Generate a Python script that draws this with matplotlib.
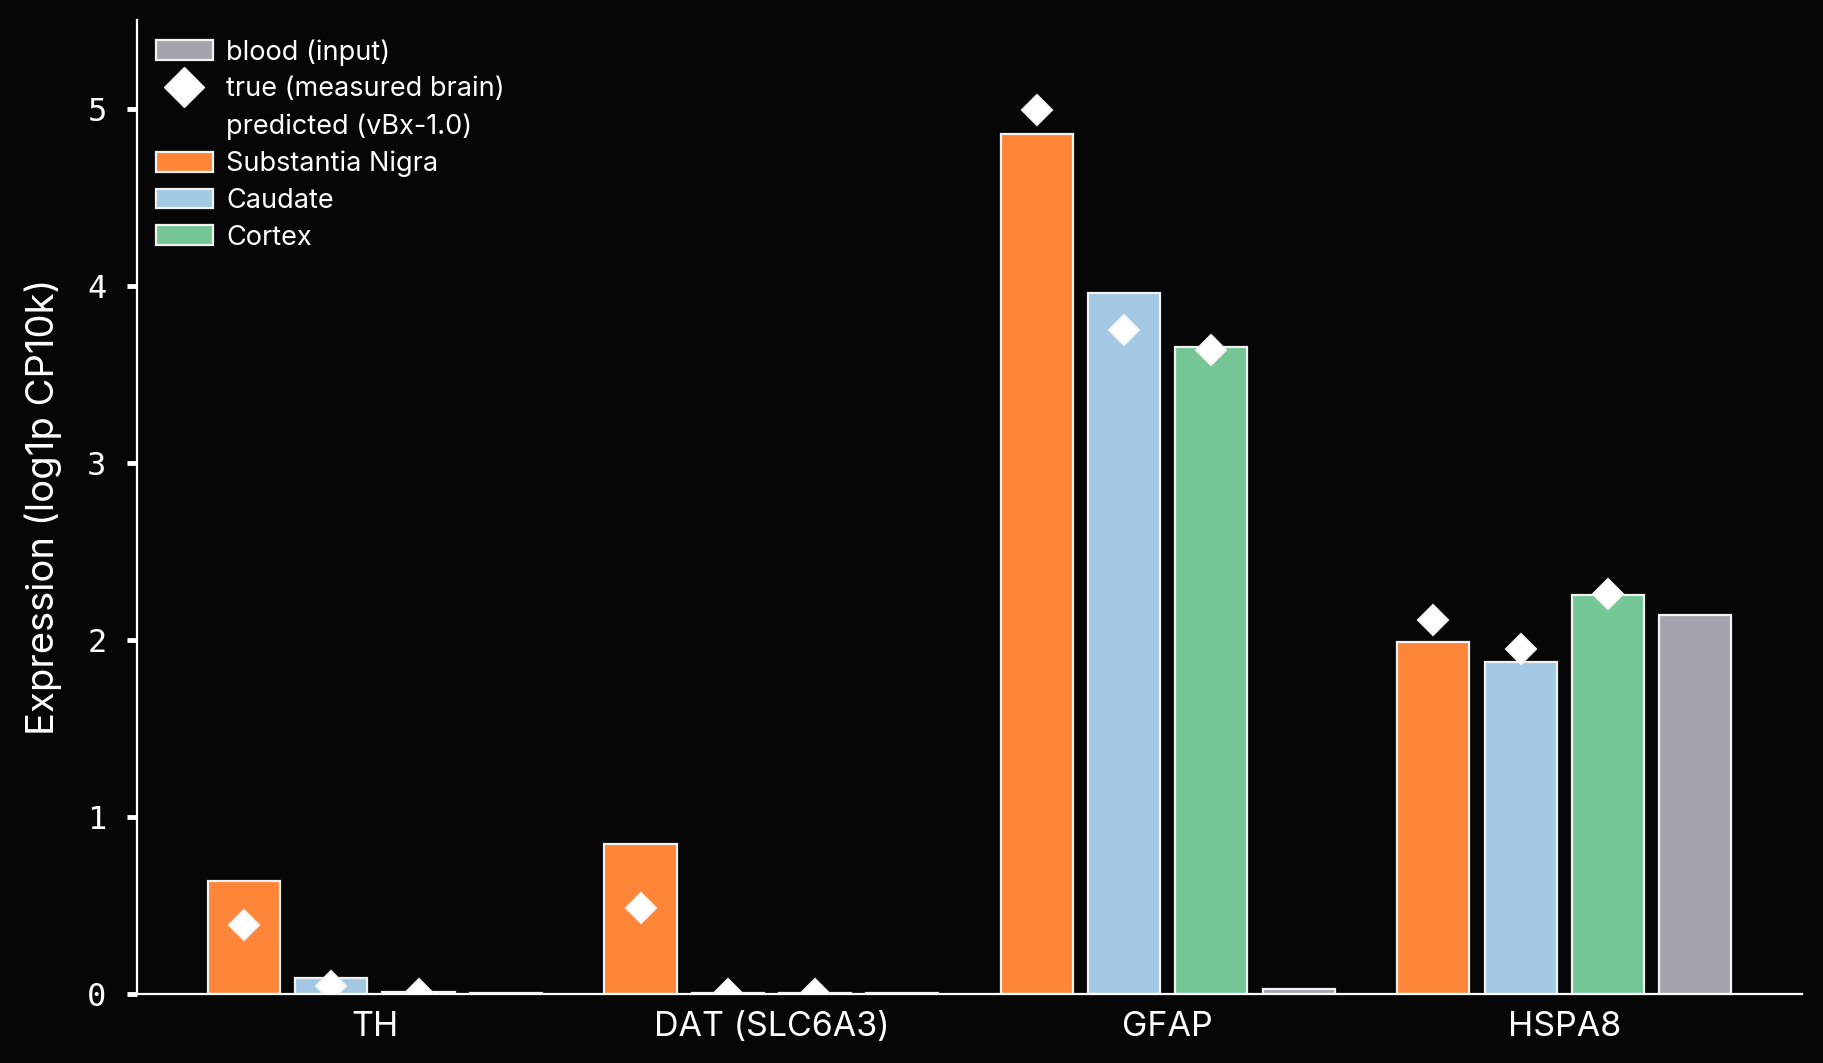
import numpy as np
import matplotlib
matplotlib.use('Agg')
from matplotlib import pyplot as plt
from matplotlib.patches import Patch
from matplotlib.lines import Line2D

GENES = ['TH', 'DAT (SLC6A3)', 'GFAP', 'HSPA8']
REGIONS = ['Substantia Nigra', 'Caudate', 'Cortex']

# predicted (bars) per region, one value per gene
PRED_SN = [0.636, 0.845, 4.856, 1.986]
PRED_CAUDATE = [0.09, 0.006, 3.958, 1.874]
PRED_CORTEX = [0.01, 0.006, 3.656, 2.254]
BLOOD = [0.005, 0.005, 0.03, 2.143]

# measured brain (diamonds)
TRUE_SN = [0.39, 0.485, 4.99, 2.11]
TRUE_CAUDATE = [0.045, 0.0, 3.75, 1.946]
TRUE_CORTEX = [0.0, 0.0, 3.64, 2.26]

BG = '#060606'
FG = '#ffffff'
C_SN = '#ff8639'
C_CAU = '#a3c8e4'
C_CTX = '#74c795'
C_BLOOD = '#a3a3ab'

plt.rcParams['font.family'] = ['Inter', 'DejaVu Sans']

fig = plt.figure(figsize=(18.23, 10.63), dpi=100, facecolor=BG)
ax = fig.add_axes([0.0752, 0.0649, 0.9133, 0.9161], facecolor=BG)

x = np.arange(len(GENES))
step = 0.22
width = 0.182
series = [(PRED_SN, C_SN, TRUE_SN), (PRED_CAUDATE, C_CAU, TRUE_CAUDATE),
          (PRED_CORTEX, C_CTX, TRUE_CORTEX), (BLOOD, C_BLOOD, None)]
for i, (vals, col, truth) in enumerate(series):
    pos = x + (i - 1.5) * step
    ax.bar(pos, vals, width, color=col, edgecolor='#f2f2f2', linewidth=1.6, zorder=2)
    if truth is not None:
        ax.plot(pos, truth, linestyle='none', marker='D', markersize=15,
                markerfacecolor=FG, markeredgecolor='#f4f4f4', markeredgewidth=1.5, zorder=4)

ax.set_xlim(-0.6, 3.6)
ax.set_ylim(0, 5.5)
ax.set_xticks(x)
ax.set_xticklabels(GENES, fontsize=24.5, color=FG)
ax.set_yticks([0, 1, 2, 3, 4, 5])
ax.set_yticklabels(['0', '1', '2', '3', '4', '5'], fontsize=23, color=FG,
                   family='DejaVu Sans Mono')
ax.tick_params(axis='x', length=0, pad=12)
ax.tick_params(axis='y', length=7, width=3.5, color=FG, pad=15)
ax.set_ylabel('Expression (log1p CP10k)', fontsize=27.5, color=FG, labelpad=18)

for s in ['top', 'right']:
    ax.spines[s].set_visible(False)
for s in ['left', 'bottom']:
    ax.spines[s].set_color(FG)
    ax.spines[s].set_linewidth(1.6)

handles = [
    Patch(facecolor=C_BLOOD, edgecolor='#f2f2f2', linewidth=1.6),
    Line2D([], [], linestyle='none', marker='D', markersize=20,
           markerfacecolor=FG, markeredgecolor='#f4f4f4'),
    Patch(facecolor='none', edgecolor='none'),
    Patch(facecolor=C_SN, edgecolor='#f2f2f2', linewidth=1.6),
    Patch(facecolor=C_CAU, edgecolor='#f2f2f2', linewidth=1.6),
    Patch(facecolor=C_CTX, edgecolor='#f2f2f2', linewidth=1.6),
]
labels = ['blood (input)', 'true (measured brain)', 'predicted (vBx-1.0)'] + REGIONS
leg = ax.legend(handles, labels, loc='upper left', frameon=False, fontsize=19.5,
                labelcolor=FG, handlelength=2.1, handleheight=0.75,
                labelspacing=0.4, handletextpad=0.5, borderaxespad=0.3,
                bbox_to_anchor=(0.0, 1.0))

fig.savefig('out.png', dpi=100, facecolor=BG)
